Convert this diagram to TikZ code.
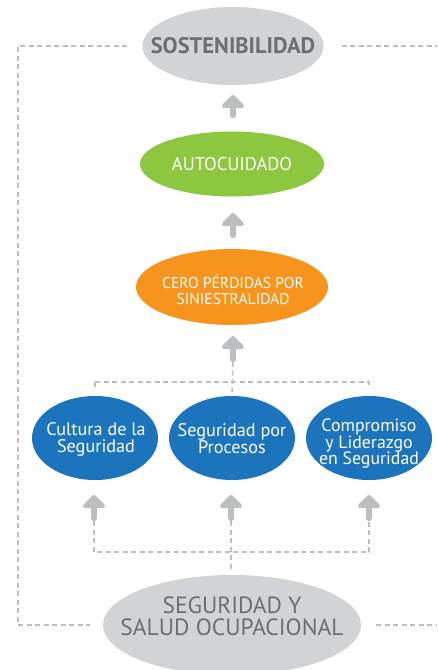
\documentclass[tikz,border=0pt]{standalone}
\usepackage{fontspec}
\setmainfont{PT Sans}
\usetikzlibrary{shapes.geometric,calc}
\definecolor{ellgray}{HTML}{D1D3D4}
\definecolor{txtgray}{HTML}{6D6E71}
\definecolor{arrgray}{HTML}{BCBEC0}
\definecolor{dashgray}{HTML}{BCBEC0}
\definecolor{green1}{HTML}{8DC63F}
\definecolor{orange1}{HTML}{F7941D}
\definecolor{blue1}{HTML}{1C75BC}
\tikzset{
  ell/.style={ellipse, inner sep=0pt},
  txt/.style={align=center, inner sep=0pt},
  dashline/.style={draw=dashgray, line width=1.5pt, dash pattern=on 5pt off 3.5pt},
  arrshaft/.style={draw=arrgray, line width=6.5pt, line cap=round},
  arrhead/.style={draw=arrgray, fill=arrgray, line width=4pt, line join=round},
}
\newcommand\garrow[2]{%
  \draw[arrshaft] ($(#1)+(0,-3)$) -- ($(#2)+(0,8)$);
  \filldraw[arrhead] ($(#2)+(0,2)$) -- ($(#2)+(-9,11)$) -- ($(#2)+(9,11)$) -- cycle;}
\begin{document}
\begin{tikzpicture}[x=1pt,y=-1pt]
\useasboundingbox (0,0) rectangle (437,670);
\clip (0,0) rectangle (437,670);
% ellipses
\node[ell, fill=ellgray, minimum width=181pt, minimum height=78pt] (sost) at (233,46) {};
\node[ell, fill=green1, minimum width=184pt, minimum height=65pt] (auto) at (232,164) {};
\node[ell, fill=orange1, minimum width=192pt, minimum height=76pt] (cero) at (232,287) {};
\node[ell, fill=blue1, minimum width=126pt, minimum height=84pt] (cult) at (95,438) {};
\node[ell, fill=blue1, minimum width=126pt, minimum height=84pt] (proc) at (232,438) {};
\node[ell, fill=blue1, minimum width=126pt, minimum height=84pt] (comp) at (369,438) {};
\node[ell, fill=ellgray, minimum width=258pt, minimum height=100pt] (ssoc) at (232,625) {};
% texts
\node[txt, text=txtgray, font=\fontsize{22.5}{24}\selectfont\bfseries] (sostt) at (233,46) {SOSTENIBILIDAD};
\node[txt, text=white, font=\fontsize{18.5}{20}\selectfont] (autot) at (232,164) {AUTOCUIDADO};
\node[txt, text=white, font=\fontsize{15.6}{16.5}\selectfont] (cerot) at (233,290) {CERO PÉRDIDAS POR\\SINIESTRALIDAD};
\node[txt, text=white, font=\fontsize{18.2}{17}\selectfont] (cultt) at (96,439) {Cultura de la\\Seguridad};
\node[txt, text=white, font=\fontsize{18.2}{17}\selectfont] (proct) at (232,439) {Seguridad por\\Procesos};
\node[txt, text=white, font=\fontsize{17.8}{16.5}\selectfont] (compt) at (369,444) {Compromiso\\y Liderazgo\\en Seguridad};
\node[txt, text=txtgray, font=\fontsize{23.5}{22}\selectfont] (ssoct) at (232,616) {SEGURIDAD Y\\SALUD OCUPACIONAL};
% arrow coordinates
\coordinate (a1b) at (233,118); \coordinate (a1t) at (233,95);
\coordinate (a2b) at (233,238); \coordinate (a2t) at (233,213);
\coordinate (a3b) at (233,362); \coordinate (a3t) at (233,336);
\coordinate (b1b) at (94,521);  \coordinate (b1t) at (94,495);
\coordinate (b2b) at (231,521); \coordinate (b2t) at (231,495);
\coordinate (b3b) at (369,521); \coordinate (b3t) at (369,495);
% dashed connectors
\draw[dashline] ([xshift=-15pt]sost.west) -- (18,46) |- ([xshift=-13pt]ssoc.west);
\draw[dashline] ([xshift=18pt]sost.east) -- (437,46);
\draw[dashline] ([xshift=15pt]ssoc.east) -- (437,625);
\draw[dashline] (a3b) -- ($(cero.south |- cult.north)+(0,-4)$);
\draw[dashline] (cult.north) ++(0,-14) coordinate (h1) -- (h1 -| comp.north) -- ++(0,5);
\draw[dashline] (h1) -- ++(0,5);
\draw[dashline] (b1b) -- (94,552) -- (369,552) -- (b3b);
\draw[dashline] (b2b) -- (231,570);
% arrows
\garrow{a1b}{a1t}
\garrow{a2b}{a2t}
\garrow{a3b}{a3t}
\garrow{b1b}{b1t}
\garrow{b2b}{b2t}
\garrow{b3b}{b3t}
\end{tikzpicture}
\end{document}
